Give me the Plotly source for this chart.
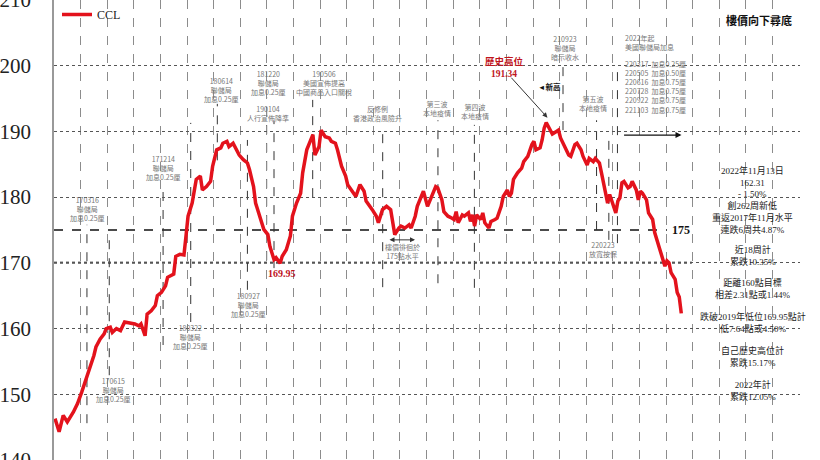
import plotly.graph_objects as go
from datetime import datetime, timedelta

# ---------------- data ----------------
START = datetime(2017, 1, 1)   # week 0 of the series

WEEKS = [0, 2, 4, 6, 9, 11, 13, 15, 16, 18, 19, 20, 22, 24, 25, 27, 28, 30, 32, 34, 37, 39, 41, 42, 44, 45, 47, 49,
         50, 52, 54, 55, 58, 59, 61, 63, 64, 65, 67, 68, 69, 71, 72, 74, 76, 77, 79, 81, 82, 84, 85, 87, 89, 90, 92,
         94, 95, 97, 98, 100, 102, 104, 105, 107, 108, 110, 111, 113, 115, 116, 118, 120, 121, 123, 125, 126, 127,
         129, 130, 132, 134, 135, 137, 138, 140, 142, 143, 146, 147, 149, 151, 152, 154, 155, 157, 158, 160, 162,
         164, 165, 166, 168, 169, 171, 173, 174, 176, 177, 179, 180, 182, 184, 186, 187, 189, 190, 192, 194, 195,
         196, 197, 199, 200, 202, 203, 204, 205, 206, 208, 209, 210, 212, 213, 215, 216, 218, 219, 221, 222, 223,
         224, 226, 228, 229, 231, 233, 234, 235, 237, 238, 239, 240, 242, 243, 245, 246, 247, 249, 251, 252, 254,
         255, 257, 258, 260, 261, 263, 264, 266, 267, 268, 269, 270, 271, 273, 274, 275, 276, 277, 278, 280, 281,
         282, 284, 285, 286, 287, 289, 290, 292, 293, 295, 296, 298, 299, 300, 301, 303, 304, 305, 306]

CCL = [146.3, 144.3, 146.8, 145.8, 147.3, 148.6, 150.3, 152.1, 152.8, 154.9, 155.9, 157.2, 158.4, 159.2, 160.0,
       160.2, 159.4, 160.0, 159.7, 161.0, 160.9, 160.7, 160.4, 160.7, 158.9, 162.2, 162.7, 163.5, 165.0, 165.5,
       166.5, 167.8, 168.3, 171.0, 171.3, 171.2, 174.1, 177.1, 179.1, 180.6, 182.7, 183.2, 181.1, 181.6, 182.4,
       184.7, 187.2, 187.5, 188.2, 188.5, 187.7, 188.2, 186.9, 186.4, 185.7, 185.2, 184.2, 181.6, 179.1, 177.1,
       175.1, 174.3, 172.5, 170.5, 170.8, 169.95, 171.0, 172.0, 174.1, 177.1, 179.1, 180.6, 183.7, 187.2, 189.0,
       189.5, 186.4, 187.7, 190.2, 189.2, 189.0, 188.5, 188.2, 187.2, 184.7, 183.2, 181.9, 180.4, 180.1, 181.9,
       180.9, 179.4, 178.6, 178.1, 177.1, 176.1, 178.1, 178.6, 178.1, 175.8, 174.3, 175.3, 175.6, 175.3, 175.8,
       175.3, 177.1, 178.6, 180.1, 180.9, 178.6, 180.1, 181.6, 181.4, 179.6, 177.8, 177.1, 176.8, 176.6, 177.8,
       176.1, 177.3, 177.1, 177.6, 176.3, 177.3, 175.6, 177.3, 176.6, 177.6, 176.1, 175.3, 176.3, 176.6, 176.8,
       178.6, 180.1, 181.1, 180.1, 180.6, 182.7, 183.7, 184.4, 185.4, 186.2, 188.0, 188.5, 187.2, 187.5, 188.7,
       190.5, 191.34, 190.0, 189.6, 190.0, 190.2, 189.0, 187.7, 186.4, 186.2, 188.0, 188.2, 187.2, 186.2, 184.9,
       185.9, 185.4, 185.9, 185.2, 183.7, 182.2, 180.1, 179.1, 180.4, 178.6, 177.6, 179.4, 179.9, 182.2, 182.4,
       181.4, 181.6, 182.4, 181.1, 179.6, 180.9, 180.6, 179.6, 177.6, 176.6, 174.6, 172.5, 171.3, 169.5, 170.3,
       170.0, 168.5, 167.5, 165.5, 164.8, 162.31]

Y_TICKS = [140, 150, 160, 170, 180, 190, 200, 210]

# event notes (grey small text)
NOTE_TEXTS = ["170316<br>聯儲局<br>加息0.25厘", "170615<br>聯儲局<br>加息0.25厘", "171214<br>聯儲局<br>加息0.25厘",
              "180322<br>聯儲局<br>加息0.25厘", "180614<br>聯儲局<br>加息0.25厘", "180927<br>聯儲局<br>加息0.25厘",
              "181220<br>聯儲局<br>加息0.25厘", "190104<br>人行宣佈降準", "190506<br>美國宣佈提高<br>中國商品入口關稅",
              "反修例<br>香港政治風險升", "樓價徘徊於<br>175點水平", "第三波<br>本地疫情", "第四波<br>本地疫情",
              "210923<br>聯儲局<br>暗示收水", "第五波<br>本地疫情", "220223<br>放寬按保"]
NOTE_WEEKS = [16.1, 28.8, 52.8, 66.4, 81.1, 94.3, 104.5, 104.1, 131.4, 157.8, 170.0, 186.6, 205.2, 249.1, 262.8, 267.7]
NOTE_VALUES = [178.2, 150.6, 184.4, 158.7, 196.3, 163.6, 197.4, 192.7, 197.4, 192.7, 171.8, 193.5, 193.0, 202.7,
               194.3, 172.0]

# dashed event marker lines
MARK_WEEKS = [15.6, 26.5, 52.8, 66.3, 79.3, 94.0, 103.4, 107.0, 125.9, 160.1, 187.1, 204.9, 248.2, 264.6, 270.6, 274.8]
MARK_TOP = [175.8, 173.5, 181.8, 191.3, 194.2, 188.7, 195.2, 191.6, 194.8, 190.5, 191.7, 191.0, 200.4, 191.7, 189.9, 200.1]
MARK_BOTTOM = [145.6, 152.9, 157.5, 161.0, 185.6, 165.9, 170.4, 169.2, 180.0, 166.3, 166.9, 166.2, 190.2, 175.0, 173.5, 173.0]

HIKE_TITLE = "2022年起<br>美國聯儲局加息"
HIKE_LIST = ["220317  加息0.25厘", "220505  加息0.50厘", "220616  加息0.75厘",
             "220728  加息0.75厘", "220922  加息0.75厘", "221103  加息0.75厘"]

SUMMARY_BLOCKS = [
    ["2022年11月13日", "162.31", "- 1.50%", "創262周新低", "重返2017年11月水平", "連跌6周共4.87%"],
    ["近18周計", "累跌10.35%"],
    ["距離160點目標", "相差2.31點或1.44%"],
    ["跌破2019年低位169.95點計", "低7.64點或4.50%"],
    ["自己歷史高位計", "累跌15.17%"],
    ["2022年計", "累跌12.05%"],
]
SUMMARY_VALUES = [179.64, 171.12, 166.10, 160.92, 155.75, 150.65]

PEAK_VALUE = 191.34
LOW_VALUE = 169.95
SUPPORT = 175


def wk(w):
    return START + timedelta(weeks=w)


SERIF = "Liberation Serif, Noto Sans CJK TC"
CJK = "Noto Sans CJK TC, Liberation Serif"

fig = go.Figure()
fig.add_trace(go.Scatter(x=[wk(w) for w in WEEKS], y=CCL, mode="lines", name="CCL",
                         line=dict(color="#e3121c", width=3.5)))

shapes = []
# thick dotted line at 170 level and dashed 175 support line
shapes.append(dict(type="line", xref="paper", yref="y", x0=0, x1=0.855, y0=170, y1=170,
                   line=dict(color="#7a7a7a", width=2.5, dash="dot"), layer="below"))
shapes.append(dict(type="line", xref="x", yref="y", x0=wk(-0.5), x1=wk(299.0), y0=SUPPORT, y1=SUPPORT,
                   line=dict(color="#111111", width=1.3, dash="dash"), layer="below"))
for w, t, b in zip(MARK_WEEKS, MARK_TOP, MARK_BOTTOM):
    shapes.append(dict(type="line", xref="x", yref="y", x0=wk(w), x1=wk(w), y0=b, y1=t,
                       line=dict(color="#333333", width=1, dash="dash"), layer="below"))

ann = []
for t, w, v in zip(NOTE_TEXTS, NOTE_WEEKS, NOTE_VALUES):
    ann.append(dict(x=wk(w), y=v, text=t, showarrow=False, font=dict(family=CJK, size=7, color="#777777"),
                    xanchor="center", yanchor="middle"))
ann.append(dict(x=wk(277.5), y=203.5, text=HIKE_TITLE, showarrow=False, align="left",
                font=dict(family=CJK, size=7, color="#777777"), xanchor="left", yanchor="middle"))
ann.append(dict(x=wk(277.5), y=196.7, text="<br>".join(HIKE_LIST), showarrow=False, align="left",
                font=dict(family=CJK, size=7, color="#777777"), xanchor="left", yanchor="middle"))
for block, v in zip(SUMMARY_BLOCKS, SUMMARY_VALUES):
    ann.append(dict(x=wk(341.0), y=v, text="<br>".join(block), showarrow=False, align="center",
                    font=dict(family=SERIF, size=9, color="#222222"), xanchor="center", yanchor="middle"))
ann.append(dict(x=wk(343.9), y=207.0, text="<b>樓價向下尋底</b>", showarrow=False,
                font=dict(family=CJK, size=11, color="#111111")))
ann.append(dict(x=wk(219.8), y=199.8, text="<b>歷史高位<br>%.2f</b>" % PEAK_VALUE, showarrow=False,
                font=dict(family=SERIF, size=9.5, color="#c0141c")))
ann.append(dict(x=wk(240.6), y=192.1, ax=wk(222.3), ay=198.4, axref="x", ayref="y", xref="x", yref="y",
                text="", showarrow=True, arrowhead=2, arrowsize=1, arrowwidth=1, arrowcolor="#333333"))
ann.append(dict(x=wk(241.5), y=196.9, text="<b>◄新高</b>", showarrow=False,
                font=dict(family=CJK, size=7.5, color="#111111")))
ann.append(dict(x=wk(110.9), y=168.45, text="<b>%.2f</b>" % LOW_VALUE, showarrow=False,
                font=dict(family=SERIF, size=10, color="#c0141c")))
ann.append(dict(x=wk(305.8), y=SUPPORT, text="<b>%d</b>" % SUPPORT, showarrow=False,
                font=dict(family=SERIF, size=12, color="#111111")))
ann.append(dict(x=wk(306.1), y=189.45, ax=wk(277.3), ay=189.45, axref="x", ayref="y", xref="x", yref="y",
                text="", showarrow=True, arrowhead=2, arrowsize=1, arrowwidth=1.2, arrowcolor="#111111"))
ann.append(dict(x=wk(175.9), y=173.5, ax=wk(162.7), ay=173.5, axref="x", ayref="y", xref="x", yref="y",
                text="", showarrow=True, arrowhead=2, arrowside="end+start", arrowsize=1, arrowwidth=1,
                arrowcolor="#333333"))

fig.update_layout(
    width=820, height=460,
    margin=dict(l=54, r=20, t=0, b=0, autoexpand=False),
    paper_bgcolor="white", plot_bgcolor="white",
    shapes=shapes, annotations=ann,
    showlegend=True,
    legend=dict(x=0.004, y=1.0, xanchor="left", yanchor="top", bgcolor="rgba(0,0,0,0)",
                font=dict(family=SERIF, size=12, color="#222222"), itemwidth=30),
    xaxis=dict(type="date", range=[wk(-0.5), wk(364.0)], showticklabels=False, ticks="",
               showgrid=True, gridcolor="#8c8c8c", griddash="dash", gridwidth=1,
               tick0=wk(12.55).strftime("%Y-%m-%d %H:%M"), dtick=91 * 86400000,
               zeroline=False, showline=False, automargin=False),
    yaxis=dict(range=[140, 210], tickmode="array", tickvals=Y_TICKS, ticktext=[str(v) for v in Y_TICKS],
               showgrid=True, gridcolor="#555555", griddash="dot", gridwidth=1,
               showline=True, linecolor="#999999", linewidth=1.5, ticks="",
               tickfont=dict(family="Liberation Serif", size=21, color="#222222"),
               ticklabelstandoff=17, ticklabeloverflow="allow", zeroline=False, automargin=False),
)

fig.write_html("out.html", config={"displayModeBar": False},
               post_script="document.body.style.margin='0';document.body.style.overflow='hidden';")
